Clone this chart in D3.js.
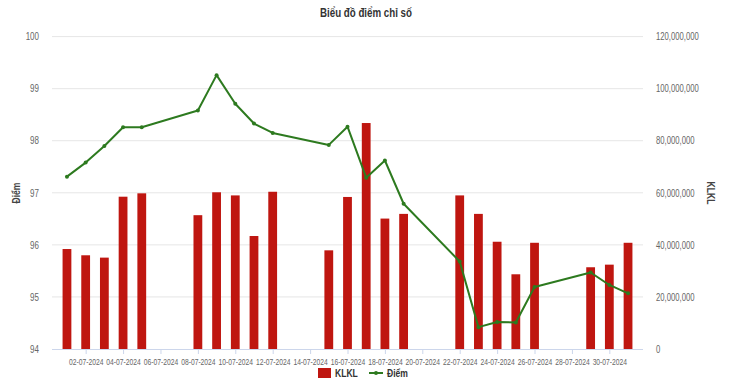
<!DOCTYPE html>
<html><head><meta charset="utf-8">
<script src="https://cdn.jsdelivr.net/npm/d3@7"></script>
<style>
body{margin:0;background:#fff;}
text{font-family:"Liberation Sans",Arial,sans-serif;}
</style></head>
<body><svg id="c" width="730" height="389"></svg>
<script>
const dates = ["2024-07-01","2024-07-02","2024-07-03","2024-07-04","2024-07-05",
"2024-07-08","2024-07-09","2024-07-10","2024-07-11","2024-07-12",
"2024-07-15","2024-07-16","2024-07-17","2024-07-18","2024-07-19",
"2024-07-22","2024-07-23","2024-07-24","2024-07-25","2024-07-26",
"2024-07-29","2024-07-30","2024-07-31"];
const klkl = [38.4e6,36.0e6,35.1e6,58.5e6,59.8e6,
51.4e6,60.2e6,59.0e6,43.4e6,60.4e6,
37.9e6,58.4e6,86.8e6,50.1e6,51.9e6,
59.0e6,51.9e6,41.2e6,28.7e6,40.8e6,
31.4e6,32.4e6,40.8e6];
const diem = [97.31,97.58,97.90,98.26,98.26,
98.58,99.26,98.71,98.33,98.15,
97.92,98.27,97.29,97.62,96.79,
95.68,94.42,94.52,94.51,95.19,
95.47,95.23,95.07];
const leftTicks = [94,95,96,97,98,99,100];
const rightTicks = [0,20e6,40e6,60e6,80e6,100e6,120e6];
const seriesNames = ["KLKL","Điểm"];
const title = "Biểu đồ điểm chỉ số";

const parse = d3.utcParse("%Y-%m-%d");
const D = dates.map(parse);
const DAY = 864e5;
const svg = d3.select("#c");
const L = 52, R = 643, T = 36.6, B = 349;
const x = d3.scaleUtc().domain([new Date(+parse("2024-07-01") - 0.8*DAY), new Date(+parse("2024-07-31") + 0.8*DAY)]).range([L, R]);
const yL = d3.scaleLinear().domain([94,100]).range([B,T]);
const yR = d3.scaleLinear().domain([0,120e6]).range([B,T]);
const barColor = "#bf1610", lineColor = "#2d7a1f";

// horizontally condense text (reference uses a condensed face)
function condense(sel, r){
  sel.each(function(){
    const t = d3.select(this);
    const xv = +t.attr("x") || 0;
    t.attr("x", xv / r);
    const tr = t.attr("transform") || "";
    t.attr("transform", (tr ? tr + " " : "") + `scale(${r},1)`);
  });
}

const tt = svg.append("text").attr("x",366).attr("y",17).attr("text-anchor","middle")
  .attr("font-size",12.5).attr("font-weight","bold").attr("fill","#333").text(title);
condense(tt, 0.78);

// grid
svg.append("g").selectAll("line").data(leftTicks.slice(1)).join("line")
  .attr("x1",L).attr("x2",R).attr("y1",d=>yL(d)).attr("y2",d=>yL(d))
  .attr("stroke","#e6e6e6").attr("stroke-width",1);

// left axis labels
const gl = svg.append("g").attr("transform",`translate(${L},0)`)
  .call(d3.axisLeft(yL).tickValues(leftTicks).tickSize(0).tickPadding(13).tickFormat(d3.format("d")));
gl.select(".domain").remove();
gl.selectAll("text").attr("font-size",10).attr("fill","#666").attr("font-family","Liberation Sans, sans-serif");
condense(gl.selectAll("text"), 0.8);

const gr = svg.append("g").attr("transform",`translate(${R},0)`)
  .call(d3.axisRight(yR).tickValues(rightTicks).tickSize(0).tickPadding(13).tickFormat(d3.format(",")));
gr.select(".domain").remove();
gr.selectAll("text").attr("font-size",10).attr("fill","#666").attr("font-family","Liberation Sans, sans-serif");
condense(gr.selectAll("text"), 0.77);

// x axis
const xTicks = d3.range(2,31,2).map(d=>parse("2024-07-"+String(d).padStart(2,"0")));
const gx = svg.append("g").attr("transform",`translate(0,${B})`)
  .call(d3.axisBottom(x).tickValues(xTicks).tickSize(5).tickPadding(4).tickFormat(d3.utcFormat("%d-%m-%Y")));
gx.select(".domain").attr("stroke","#ccd6eb").attr("d",`M${L},0.5H${R}`);
gx.selectAll(".tick line").attr("stroke","#ccd6eb");
gx.selectAll("text").attr("font-size",9.5).attr("fill","#666").attr("font-family","Liberation Sans, sans-serif");
condense(gx.selectAll("text"), 0.71);

// axis titles
const t1 = svg.append("text").attr("transform","translate(20,193) rotate(-90)").attr("text-anchor","middle")
  .attr("font-size",11).attr("font-weight","bold").attr("fill","#444").text(seriesNames[1]);
const t2 = svg.append("text").attr("transform","translate(707,193) rotate(90)").attr("text-anchor","middle")
  .attr("font-size",11).attr("font-weight","bold").attr("fill","#444").text(seriesNames[0]);
condense(t1, 0.78); condense(t2, 0.78);

// bars
const bw = (x(new Date(+D[0]+DAY)) - x(D[0]))*0.47;
svg.append("g").selectAll("rect").data(D).join("rect")
  .attr("x",(d)=>x(d)-bw/2).attr("width",bw)
  .attr("y",(d,i)=>yR(klkl[i])).attr("height",(d,i)=>B-yR(klkl[i]))
  .attr("fill",barColor);

// line
const line = d3.line().x(d=>x(d[0])).y(d=>yL(d[1]));
const pts = D.map((d,i)=>[d,diem[i]]);
svg.append("path").datum(pts).attr("d",line).attr("fill","none")
  .attr("stroke",lineColor).attr("stroke-width",2).attr("stroke-linejoin","round");
svg.append("g").selectAll("circle").data(pts).join("circle")
  .attr("cx",d=>x(d[0])).attr("cy",d=>yL(d[1])).attr("r",2).attr("fill",lineColor);

// legend
const lg = svg.append("g");
lg.append("rect").attr("x",318).attr("y",368).attr("width",13).attr("height",10).attr("fill",barColor);
const l1 = lg.append("text").attr("x",335).attr("y",377).attr("font-size",11).attr("font-weight","bold").attr("fill","#333").text(seriesNames[0]);
lg.append("line").attr("x1",369).attr("x2",383).attr("y1",373).attr("y2",373).attr("stroke",lineColor).attr("stroke-width",2);
lg.append("circle").attr("cx",376).attr("cy",373).attr("r",2).attr("fill",lineColor);
const l2 = lg.append("text").attr("x",387).attr("y",377).attr("font-size",11).attr("font-weight","bold").attr("fill","#333").text(seriesNames[1]);
condense(l1, 0.78); condense(l2, 0.78);
</script></body></html>
